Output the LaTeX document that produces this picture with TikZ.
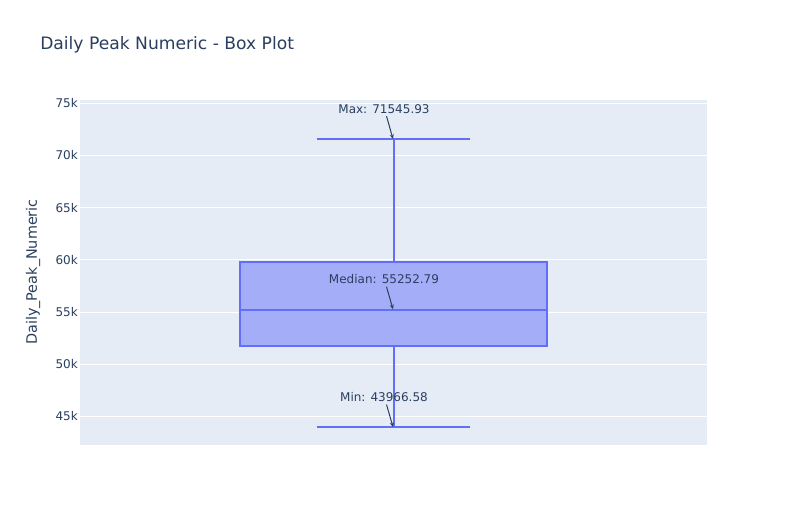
\documentclass[tikz,border=0pt]{standalone}
\usepackage{fontspec}
\setmainfont{DejaVu Sans}
\usetikzlibrary{arrows.meta}
\definecolor{txt}{HTML}{2A3F5F}
\definecolor{plotbg}{HTML}{E5ECF6}
\definecolor{boxline}{HTML}{636EFA}
\definecolor{boxfill}{HTML}{A4ADF8}
\tikzset{
  ticklab/.style={anchor=east, text=txt, font=\fontsize{9}{10}\selectfont, inner sep=0pt},
  annot/.style={text=txt, font=\fontsize{9}{10}\selectfont, inner sep=1pt},
  annarrow/.style={draw=txt, line width=0.75pt, -{Stealth[length=3.5pt,width=3pt]}},
  gridline/.style={draw=white, line width=0.75pt},
  boxstroke/.style={draw=boxline, line width=1.5pt},
}
\begin{document}
\begin{tikzpicture}[x=0.75pt,y=-0.75pt]
\useasboundingbox (0,0) rectangle (786,525);
\fill[white] (0,0) rectangle (786,525);
% plot area
\fill[plotbg] (80,100) rectangle (707,445);
% gridlines
\foreach \yy in {103.3,155.5,207.7,259.9,312.1,364.3,416.5}
  \draw[gridline] (80,\yy) -- (707,\yy);
% tick labels
\node[ticklab] (t75) at (78,103.3) {75k};
\node[ticklab] (t70) at (78,155.5) {70k};
\node[ticklab] (t65) at (78,207.7) {65k};
\node[ticklab] (t60) at (78,259.9) {60k};
\node[ticklab] (t55) at (78,312.1) {55k};
\node[ticklab] (t50) at (78,364.3) {50k};
\node[ticklab] (t45) at (78,416.5) {45k};
% axis title
\node[text=txt, font=\fontsize{10.8}{12}\selectfont, rotate=90, inner sep=0pt] (ytitle) at (33,272) {Daily\_Peak\_Numeric};
% title
\node[text=txt, font=\fontsize{12.85}{15}\selectfont, anchor=west, inner sep=0pt] (title) at (40,44.5) {Daily Peak Numeric - Box Plot};
% box
\coordinate (wtop) at (393.5,139.4);
\coordinate (wbot) at (393.5,427.3);
\coordinate (q3) at (393.5,262);
\coordinate (q1) at (393.5,346.3);
\draw[boxstroke] (wtop) -- (q3);
\draw[boxstroke] (q1) -- (wbot);
\draw[boxstroke, fill=boxfill] (240,262) rectangle (547,346.3);
\draw[boxstroke] (240,309.5) -- (547,309.5);
\draw[boxstroke] (317,139.4) -- (470,139.4);
\draw[boxstroke] (317,427.3) -- (470,427.3);
% annotations
\node[annot] (amax) at (384,109) {Max: 71545.93};
\node[annot] (amed) at (384,279.5) {Median: 55252.79};
\node[annot] (amin) at (384,397.3) {Min: 43966.58};
\coordinate (hmax) at (393,139);
\coordinate (hmed) at (393,309.3);
\coordinate (hmin) at (393,427);
\draw[annarrow] (amax.south) ++(2.5,1) -- (hmax);
\draw[annarrow] (amed.south) ++(2.5,1) -- (hmed);
\draw[annarrow] (amin.south) ++(2.5,1) -- (hmin);
\end{tikzpicture}
\end{document}
